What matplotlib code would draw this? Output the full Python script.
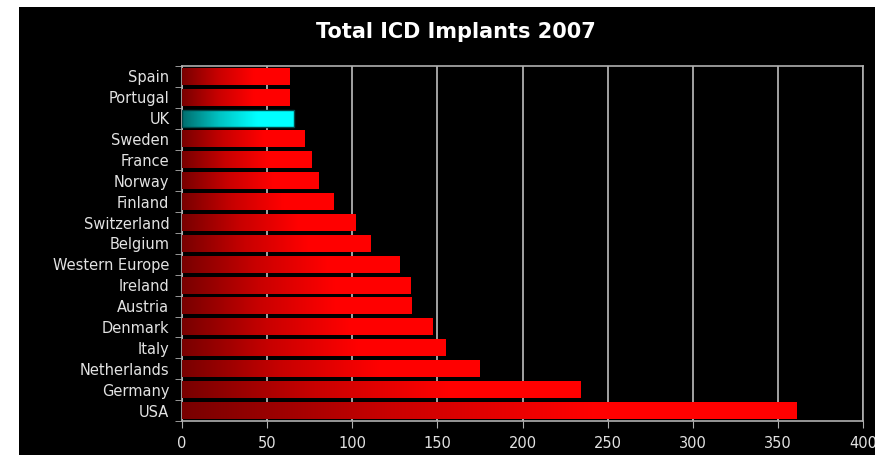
import numpy as np
import matplotlib.pyplot as plt
from matplotlib.colors import LinearSegmentedColormap
from matplotlib.patches import Rectangle

countries = ["Spain", "Portugal", "UK", "Sweden", "France", "Norway", "Finland",
             "Switzerland", "Belgium", "Western Europe", "Ireland", "Austria",
             "Denmark", "Italy", "Netherlands", "Germany", "USA"]
implants = [63, 63, 66, 72, 76, 80, 89, 102, 111, 128, 134, 135, 147, 155, 175, 234, 361]
highlight = "UK"

plt.rcParams['font.family'] = ['DejaVu Sans']

red_map = LinearSegmentedColormap.from_list("reds", ["#780000", "#c80000", "#ff0000", "#ff0000"])
cyan_map = LinearSegmentedColormap.from_list("cyans", ["#006e6e", "#00c4c4", "#00ffff", "#00ffff"])

fig = plt.figure(figsize=(8.75, 4.55), dpi=100, facecolor="white")
# black panel behind everything
fig.patches.append(Rectangle((19 / 875, 0), 1, 448 / 455, transform=fig.transFigure,
                             facecolor="black", edgecolor="none", zorder=-10))

ax = fig.add_axes([182 / 875, 34 / 455, 681 / 875, 355 / 455])
ax.set_facecolor("black")

ypos = np.arange(len(countries))
bars = ax.barh(ypos, implants, height=0.8, color="none", edgecolor="none", zorder=3)

# fill each bar with a left-to-right gradient
grad = np.linspace(0, 1, 256).reshape(1, -1)
for name, bar in zip(countries, bars):
    x0, y0 = bar.get_x(), bar.get_y()
    w, h = bar.get_width(), bar.get_height()
    cmap = cyan_map if name == highlight else red_map
    ax.imshow(grad, cmap=cmap, aspect="auto", extent=[x0, x0 + w, y0, y0 + h],
              zorder=3, interpolation="bilinear")
    if name == highlight:
        ax.add_patch(Rectangle((x0, y0), w, h, facecolor="none",
                               edgecolor="#004848", lw=1.0, zorder=4))

ax.set_xlim(0, 400)
ax.set_ylim(len(countries) - 0.5, -0.5)
ax.set_xticks(np.arange(0, 401, 50))
ax.set_yticks(ypos)
ax.set_yticklabels(countries)
ax.set_yticks(np.arange(-0.5, len(countries), 1), minor=True)

ax.grid(axis="x", color="#b0b0b0", lw=1.3, zorder=1)
ax.tick_params(axis="y", which="major", length=0, pad=9, labelsize=10.5, labelcolor="#e2e2e2")
ax.tick_params(axis="y", which="minor", length=5, color="#b0b0b0", direction="out")
ax.tick_params(axis="x", length=5, color="#b0b0b0", labelsize=10.5, labelcolor="#e2e2e2", pad=6)
for s in ax.spines.values():
    s.set_color("#b0b0b0")
    s.set_linewidth(1.2)

fig.text(456 / 875, 1 - 32 / 455, "Total ICD Implants 2007", color="white",
         fontsize=15, fontweight="bold", ha="center", va="center")

fig.savefig("out.png", dpi=100, facecolor=fig.get_facecolor())
